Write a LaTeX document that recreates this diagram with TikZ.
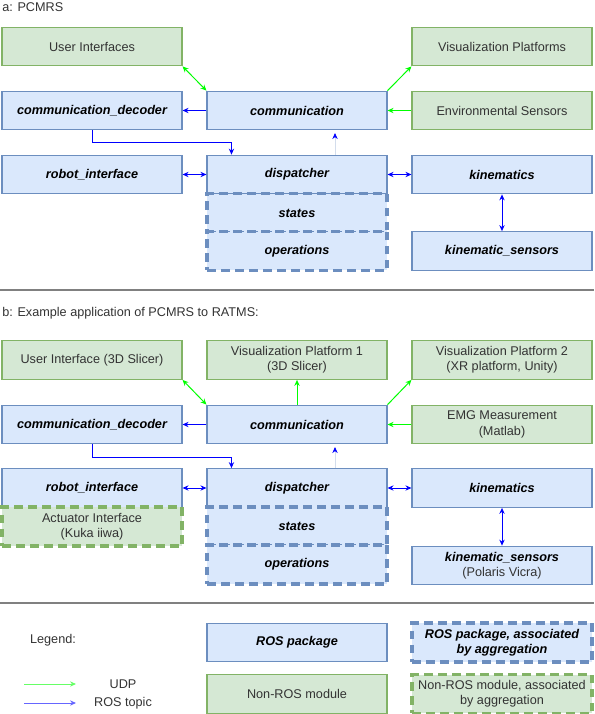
\documentclass[tikz,border=0pt]{standalone}
\usepackage{fontspec}
\setmainfont{Liberation Sans}
\usepackage{tikz}
\usetikzlibrary{arrows.meta,positioning}
\definecolor{rosfill}{HTML}{DAE8FC}
\definecolor{rosline}{HTML}{6C8EBF}
\definecolor{modfill}{HTML}{D5E8D4}
\definecolor{modline}{HTML}{82B366}
\definecolor{udpgreen}{HTML}{00FF00}
\definecolor{topicblue}{HTML}{0000FF}
\definecolor{txtgray}{HTML}{333333}
\definecolor{sepgray}{HTML}{808080}
\newcommand{\boxfont}{\fontsize{9.5}{11.5}\selectfont}

\begin{document}
\begin{tikzpicture}[x=0.75pt, y=-0.75pt,
    box/.style={rectangle, minimum width=135pt, minimum height=29pt,
                align=center, inner sep=1pt, font=\boxfont},
    ros/.style={box, draw=rosline, fill=rosfill, line width=0.8pt,
                font=\boxfont\bfseries\itshape},
    mod/.style={box, draw=modline, fill=modfill, line width=0.8pt, text=txtgray},
    rosagg/.style={ros, line width=2.6pt, dash pattern=on 6.5pt off 4pt},
    modagg/.style={mod, line width=2.6pt, dash pattern=on 6.5pt off 4pt},
    label/.style={font=\boxfont, text=txtgray, inner sep=0pt},
    udp/.style={-{Stealth[length=4.5pt,width=4pt]}, udpgreen, line width=0.75pt},
    topic/.style={-{Stealth[length=4.5pt,width=4pt]}, topicblue, line width=0.75pt},
    both/.style={{Stealth[length=4.5pt,width=4pt]}-{Stealth[length=4.5pt,width=4pt]}},
    faint/.style={-{Stealth[length=4.5pt,width=4pt,color=topicblue]}, rosline!30, line width=0.6pt},
    sep/.style={sepgray, line width=1.3pt}
]
    \useasboundingbox (0,0) rectangle (594,714);

    % --- a: PCMRS
    \node[label, anchor=west] (ta) at (2,7) {a: PCMRS};
    \node[mod] (aui) at (92,46.5) {User Interfaces};
    \node[mod] (avis) at (502,46.5) {Visualization Platforms};
    \node[ros] (adec) at (92,110.5) {communication\_decoder};
    \node[ros] (acom) at (297,110.5) {communication};
    \node[mod] (aenv) at (502,110.5) {Environmental Sensors};
    \node[ros] (arob) at (92,174.5) {robot\_interface};
    \node[ros] (adsp) at (297,174.5) {dispatcher};
    \node[ros] (akin) at (502,174.5) {kinematics};
    \node[rosagg] (ast) at (297,213) {states};
    \node[rosagg] (aop) at (297,251) {operations};
    \node[ros] (aks) at (502,251) {kinematic\_sensors};

    \draw[udp, both] (aui.south east) -- (acom.north west);
    \draw[udp] (acom.north east) -- (avis.south west);
    \draw[udp] (aenv.west) -- (acom.east);
    \draw[topic] (acom.west) -- (adec.east);
    \draw[topic] (adec.south) -- ++(0,12) -| ([xshift=18.75pt]adsp.north west);
    \draw[faint] ([xshift=28.5pt]adsp.north) -- ([xshift=28.5pt,yshift=-2pt]acom.south);
    \draw[topic, both] (arob.east) -- (adsp.west);
    \draw[topic, both] (adsp.east) -- (akin.west);
    \draw[topic, both] (akin.south) -- (aks.north);

    \draw[sep] (0,290) -- (594,290);

    % --- b: application to RATMS
    \node[label, anchor=west] (tb) at (2,313) {b: Example application of PCMRS to RATMS:};
    \node[mod] (bui) at (92,360) {User Interface (3D Slicer)};
    \node[mod] (bvis1) at (297,360) {Visualization Platform 1\\(3D Slicer)};
    \node[mod] (bvis2) at (502,360) {Visualization Platform 2\\(XR platform, Unity)};
    \node[ros] (bdec) at (92,424.5) {communication\_decoder};
    \node[ros] (bcom) at (297,424.5) {communication};
    \node[mod] (bemg) at (502,424.5) {EMG Measurement\\(Matlab)};
    \node[ros] (brob) at (92,488) {robot\_interface};
    \node[ros] (bdsp) at (297,488) {dispatcher};
    \node[ros] (bkin) at (502,488) {kinematics};
    \node[modagg] (bact) at (92,526.5) {Actuator Interface\\(Kuka iiwa)};
    \node[rosagg] (bst) at (297,526.5) {states};
    \node[rosagg] (bop) at (297,564.5) {operations};
    \node[ros, font=\boxfont, text=txtgray] (bks) at (502,565.5)
        {\textcolor{black}{\bfseries\itshape kinematic\_sensors}\\(Polaris Vicra)};

    \draw[udp, both] (bui.south east) -- (bcom.north west);
    \draw[udp] (bcom.north) -- (bvis1.south);
    \draw[udp] (bcom.north east) -- (bvis2.south west);
    \draw[udp] (bemg.west) -- (bcom.east);
    \draw[topic] (bcom.west) -- (bdec.east);
    \draw[topic] (bdec.south) -- ++(0,13) -| ([xshift=18.75pt]bdsp.north west);
    \draw[faint] ([xshift=28.5pt]bdsp.north) -- ([xshift=28.5pt,yshift=-2pt]bcom.south);
    \draw[topic, both] (brob.east) -- (bdsp.west);
    \draw[topic, both] (bdsp.east) -- (bkin.west);
    \draw[topic, both] (bkin.south) -- (bks.north);

    \draw[sep] (0,603) -- (594,603);

    % --- legend
    \node[label] (lg) at (53,640) {Legend:};
    \coordinate (u1) at (24,684);
    \coordinate (u2) at (76,684);
    \coordinate (t1) at (24,703);
    \coordinate (t2) at (76,703);
    \draw[udp, udpgreen!60!white] (u1) -- (u2);
    \draw[topic, topicblue!60!white] (t1) -- (t2);
    \node[label] (lu) at (123,684) {UDP};
    \node[label] (lt) at (123,703) {ROS topic};
    \node[ros] (lros) at (297,642.5) {ROS package};
    \node[rosagg] (lrosagg) at (502,642.5) {ROS package, associated\\by aggregation};
    \node[mod] (lmod) at (297,694) {Non-ROS module};
    \node[modagg] (lmodagg) at (502,694) {Non-ROS module, associated\\by aggregation};
\end{tikzpicture}
\end{document}
